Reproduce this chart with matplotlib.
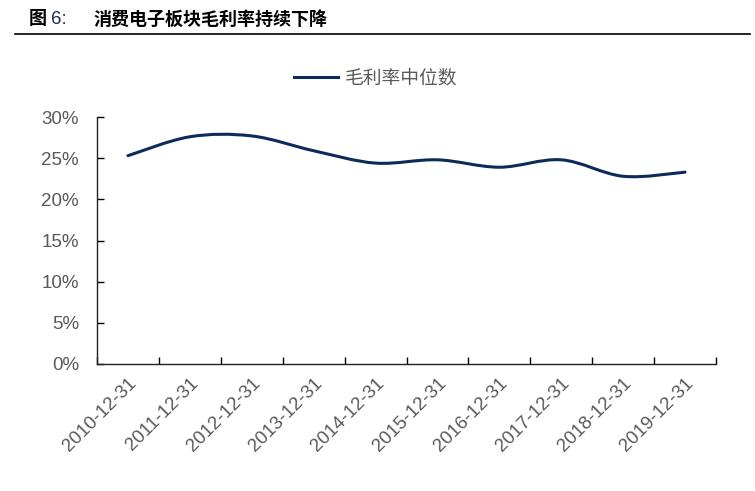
import matplotlib.pyplot as plt
from matplotlib.path import Path
from matplotlib.patches import PathPatch
from matplotlib.lines import Line2D
import matplotlib.transforms as mtransforms
import numpy as np

# data
dates = ['2010-12-31', '2011-12-31', '2012-12-31', '2013-12-31', '2014-12-31',
         '2015-12-31', '2016-12-31', '2017-12-31', '2018-12-31', '2019-12-31']
gross_margin = [25.3, 27.6, 27.7, 25.9, 24.4, 24.8, 23.9, 24.8, 22.8, 23.3]
series_name = '毛利率中位数'
title_text = '消费电子板块毛利率持续下降'

line_color = '#0D2B5A'
text_gray = '#595959'
cjk = ['Noto Sans CJK SC', 'DejaVu Sans']
latin = ['Liberation Sans', 'DejaVu Sans']

plt.rcParams['font.family'] = cjk


def smooth_path(xs, ys, k=1 / 6):
    # Catmull-Rom style bezier, like office "smoothed line"
    verts = [(xs[0], ys[0])]
    codes = [Path.MOVETO]
    n = len(xs)
    for i in range(n - 1):
        x0, y0 = (xs[i - 1], ys[i - 1]) if i > 0 else (xs[i], ys[i])
        x1, y1 = xs[i], ys[i]
        x2, y2 = xs[i + 1], ys[i + 1]
        x3, y3 = (xs[i + 2], ys[i + 2]) if i + 2 < n else (x2, y2)
        c1 = (x1 + (x2 - x0) * k, y1 + (y2 - y0) * k)
        c2 = (x2 - (x3 - x1) * k, y2 - (y3 - y1) * k)
        verts += [c1, c2, (x2, y2)]
        codes += [Path.CURVE4] * 3
    return Path(verts, codes)


fig = plt.figure(figsize=(7.55, 4.91), dpi=100)
ax = fig.add_axes([97 / 755, 127 / 491, 619 / 755, 247 / 491])

x = np.arange(len(dates))
patch = PathPatch(smooth_path(x, gross_margin), facecolor='none',
                  edgecolor=line_color, linewidth=2.2, capstyle='round')
ax.add_patch(patch)

ax.set_xlim(-0.5, len(dates) - 0.5)
ax.set_ylim(0, 30)
ax.set_yticks(range(0, 31, 5))
ax.set_yticklabels([f'{v}%' for v in range(0, 31, 5)], family=latin,
                   fontsize=13.5, color=text_gray)
ax.set_xticks(x)
ax.set_xticklabels(dates, family=latin, fontsize=13.5, color=text_gray,
                   rotation=45, ha='right', rotation_mode='anchor')
# shift labels a bit so their ends sit near the category centre
offset = mtransforms.ScaledTranslation(15 / 100, 0, fig.dpi_scale_trans)
for lab in ax.get_xticklabels():
    lab.set_transform(lab.get_transform() + offset)
ax.set_xticks(np.arange(len(dates) + 1) - 0.5, minor=True)
ax.tick_params(axis='x', which='major', length=0, pad=8)
ax.tick_params(axis='x', which='minor', direction='in', length=5, width=1)
ax.tick_params(axis='y', direction='in', length=5, width=1, pad=13)

for s in ['top', 'right']:
    ax.spines[s].set_visible(False)
for s in ['left', 'bottom']:
    ax.spines[s].set_linewidth(1)
    ax.spines[s].set_color('#222222')

# legend
handle = Line2D([], [], color=line_color, linewidth=2.2)
fig.legend([handle], [series_name], loc='center', bbox_to_anchor=(376 / 755, 1 - 78 / 491),
           frameon=False, handlelength=2.3, handletextpad=0.4,
           prop={'family': cjk, 'size': 13.5}, labelcolor=text_gray)

# title
fig.text(29 / 755, 1 - 19 / 491, '图', fontsize=13, fontweight='bold',
         family=cjk, va='center', ha='left')
fig.text(51 / 755, 1 - 19 / 491, '6:', fontsize=13.5, family=latin,
         color='#1F2F50', va='center', ha='left')
fig.text(93 / 755, 1 - 19 / 491, title_text, fontsize=13, fontweight='bold',
         family=cjk, va='center', ha='left')
fig.add_artist(Line2D([15 / 755, 750 / 755], [1 - 34 / 491, 1 - 34 / 491],
                      transform=fig.transFigure, color='black', linewidth=1.2))

fig.savefig('out.png', dpi=100)
